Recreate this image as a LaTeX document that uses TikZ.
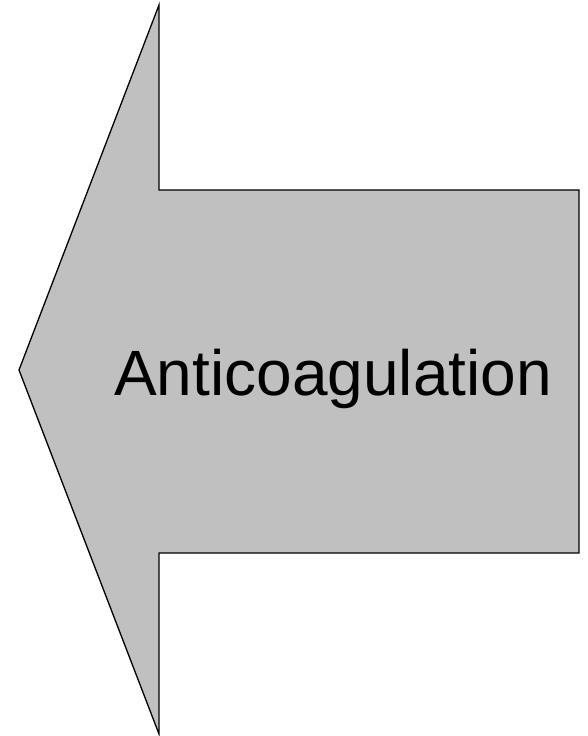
\documentclass[tikz,border=0pt]{standalone}
\usepackage{fontspec}
\setmainfont{Liberation Sans}
\definecolor{arrowgray}{HTML}{C0C0C0}
\begin{document}
\begin{tikzpicture}[x=1pt,y=1pt,
  arrowshape/.style={fill=arrowgray,draw=black,line width=1.3pt,line join=miter},
  label/.style={inner sep=0pt,anchor=base west,font=\fontsize{64}{70}\selectfont}]
\useasboundingbox (0,0) rectangle (588,736);
\path[arrowshape] (19,366) -- (159,731) -- (159,546) -- (579,546) -- (579,183) -- (159,183) -- (159,2) -- cycle;
\node[label] (t) at (114,340) {Anticoagulation};
\end{tikzpicture}
\end{document}
